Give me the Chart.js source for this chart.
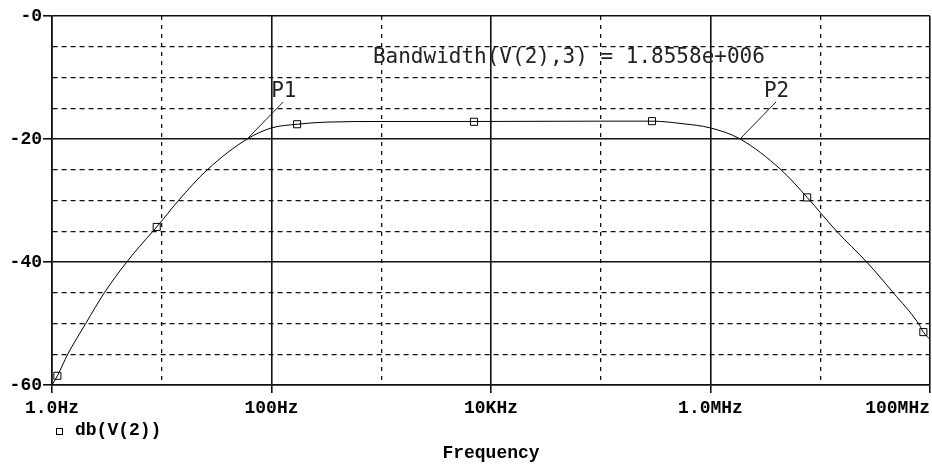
<!DOCTYPE html>
<html>
<head>
<meta charset="utf-8">
<script src="https://cdn.jsdelivr.net/npm/chart.js@4.4.0/dist/chart.umd.min.js"></script>
<style>
  html, body { margin: 0; padding: 0; background: #fff; }
  #wrap { width: 932px; height: 466px; }
</style>
</head>
<body>
<div id="wrap"><canvas id="bodePlot" width="932" height="466"></canvas></div>
<script>
// db(V(2)) ao longo da frequência
const freqHz = [1, 1.12, 1.39, 2.03, 3.0, 4.8, 8.3, 9.0, 14.2, 26, 60, 100, 171, 320, 1000, 7000,
  1e5, 2.93e5, 5.5e5, 1e6, 1.86e6, 4.39e6, 7.6e6, 1.41e7, 2.65e7, 4.63e7, 7.85e7, 8.7e7, 1e8];
const gainDb = [-60, -58.5, -55, -50, -45, -40, -35, -34.3, -30, -25, -20, -18.2, -17.6, -17.25, -17.15, -17.15,
  -17.1, -17.1, -17.5, -18.2, -20, -25, -29.5, -35, -40, -45, -50, -51.4, -52.6];

// marcadores quadrados do traço
const markFreq = [1.12, 9.0, 171, 7000, 2.93e5, 7.6e6, 8.7e7];
const markDb = [-58.5, -34.3, -17.6, -17.2, -17.1, -29.5, -51.4];

// eixos
const gridDecades = [1, 10, 100, 1e3, 1e4, 1e5, 1e6, 1e7, 1e8];
const xTickFreq = [1, 1e2, 1e4, 1e6, 1e8];
const xTickLabels = ['1.0Hz', '100Hz', '10KHz', '1.0MHz', '100MHz'];
const yTickDb = [0, -20, -40, -60];
const yTickLabels = ['-0', '-20', '-40', '-60'];

// cursores nos pontos de -3 dB
const cursorNames = ['P1', 'P2'];
const cursorFreq = [60, 1.856e6];
const cursorDb = [-20, -20];
const measureText = 'Bandwidth(V(2),3) = 1.8558e+006';
const traceName = 'db(V(2))';
const xTitle = 'Frequency';

const axisFont = 'bold 18px "Liberation Mono"';
const noteFont = '21px "DejaVu Sans Mono"';
const ink = '#111';

const isMajorX = v => Math.round(Math.log10(v)) % 2 === 0;
const isMajorY = v => Math.round(v) % 20 === 0;

// textos, legenda e cursores desenhados por cima
const probeText = {
  id: 'probeText',
  afterDraw(chart) {
    const { ctx, chartArea, scales: { x, y } } = chart;
    ctx.save();
    ctx.fillStyle = '#000';
    ctx.textBaseline = 'alphabetic';
    ctx.textAlign = 'left';

    // rótulos do eixo x
    ctx.font = axisFont;
    xTickFreq.forEach((f, i) => {
      const px = x.getPixelForValue(f);
      const w = ctx.measureText(xTickLabels[i]).width;
      let left = px - w / 2;
      if (left + w > chartArea.right) left = chartArea.right - w;
      ctx.fillText(xTickLabels[i], left, chartArea.bottom + 28);
    });

    // legenda do traço
    ctx.strokeStyle = '#000';
    ctx.lineWidth = 1;
    ctx.fillStyle = '#fff';
    ctx.fillRect(56, chartArea.bottom + 43, 6, 6);
    ctx.strokeRect(56.5, chartArea.bottom + 43.5, 6, 6);
    ctx.fillStyle = '#000';
    ctx.fillText(traceName, 75, chartArea.bottom + 50);

    // título do eixo x
    ctx.textAlign = 'center';
    ctx.fillText(xTitle, (chartArea.left + chartArea.right) / 2, chartArea.bottom + 73);

    // medida de banda
    ctx.textAlign = 'left';
    ctx.font = noteFont;
    ctx.fillStyle = '#222';
    ctx.fillText(measureText, x.getPixelForValue(840), y.getPixelForValue(-7.6));

    // P1 / P2 com linha guia
    cursorNames.forEach((name, i) => {
      const px = x.getPixelForValue(cursorFreq[i]);
      const py = y.getPixelForValue(cursorDb[i]);
      ctx.beginPath();
      ctx.moveTo(px, py);
      ctx.lineTo(px + 36, py - 37);
      ctx.strokeStyle = '#222';
      ctx.lineWidth = 1;
      ctx.stroke();
      ctx.fillText(name, px + 24, py - 42);
    });
    ctx.restore();
  }
};

const ctx = document.getElementById('bodePlot');
new Chart(ctx, {
  type: 'line',
  data: {
    datasets: [
      {
        label: traceName,
        data: freqHz.map((f, i) => ({ x: f, y: gainDb[i] })),
        borderColor: '#000',
        borderWidth: 1,
        pointRadius: 0,
        cubicInterpolationMode: 'monotone',
        fill: false
      },
      {
        label: 'marks',
        data: markFreq.map((f, i) => ({ x: f, y: markDb[i] })),
        showLine: false,
        pointStyle: 'rect',
        pointRadius: 5,
        pointBackgroundColor: '#fff',
        pointBorderColor: '#000',
        pointBorderWidth: 1
      }
    ]
  },
  options: {
    responsive: false,
    animation: false,
    layout: { autoPadding: false, padding: { top: 16, right: 2, left: 0, bottom: 0 } },
    plugins: { legend: { display: false }, tooltip: { enabled: false } },
    scales: {
      x: {
        type: 'logarithmic',
        min: 1,
        max: 1e8,
        afterBuildTicks: s => { s.ticks = gridDecades.map(v => ({ value: v })); },
        afterFit: s => { s.height = 81; s.paddingLeft = 0; s.paddingRight = 0; },
        ticks: { display: false },
        grid: {
          color: ink,
          lineWidth: c => (c.tick && isMajorX(c.tick.value)) ? 1.6 : 1.3,
          drawTicks: true,
          tickLength: 8,
          tickWidth: 1.6,
          tickColor: c => (c.tick && isMajorX(c.tick.value)) ? ink : 'rgba(0,0,0,0)'
        },
        border: {
          color: ink,
          width: 1.6,
          dash: c => (c.tick && !isMajorX(c.tick.value)) ? [4, 5] : []
        }
      },
      y: {
        type: 'linear',
        min: -60,
        max: 0,
        afterFit: s => { s.width = 52; },
        ticks: {
          stepSize: 5,
          autoSkip: false,
          padding: 1,
          color: '#000',
          font: { family: 'Liberation Mono', size: 18, weight: 'bold' },
          callback: v => {
            const i = yTickDb.indexOf(Math.round(v));
            return i >= 0 ? yTickLabels[i] : '';
          }
        },
        grid: {
          color: ink,
          lineWidth: c => (c.tick && isMajorY(c.tick.value)) ? 1.6 : 1.3,
          drawTicks: true,
          tickLength: 9,
          tickWidth: 1.6,
          tickColor: c => (c.tick && isMajorY(c.tick.value)) ? ink : 'rgba(0,0,0,0)'
        },
        border: {
          color: ink,
          width: 1.6,
          dash: c => (c.tick && !isMajorY(c.tick.value)) ? [5, 4] : []
        }
      }
    }
  },
  plugins: [probeText]
});
</script>
</body>
</html>
